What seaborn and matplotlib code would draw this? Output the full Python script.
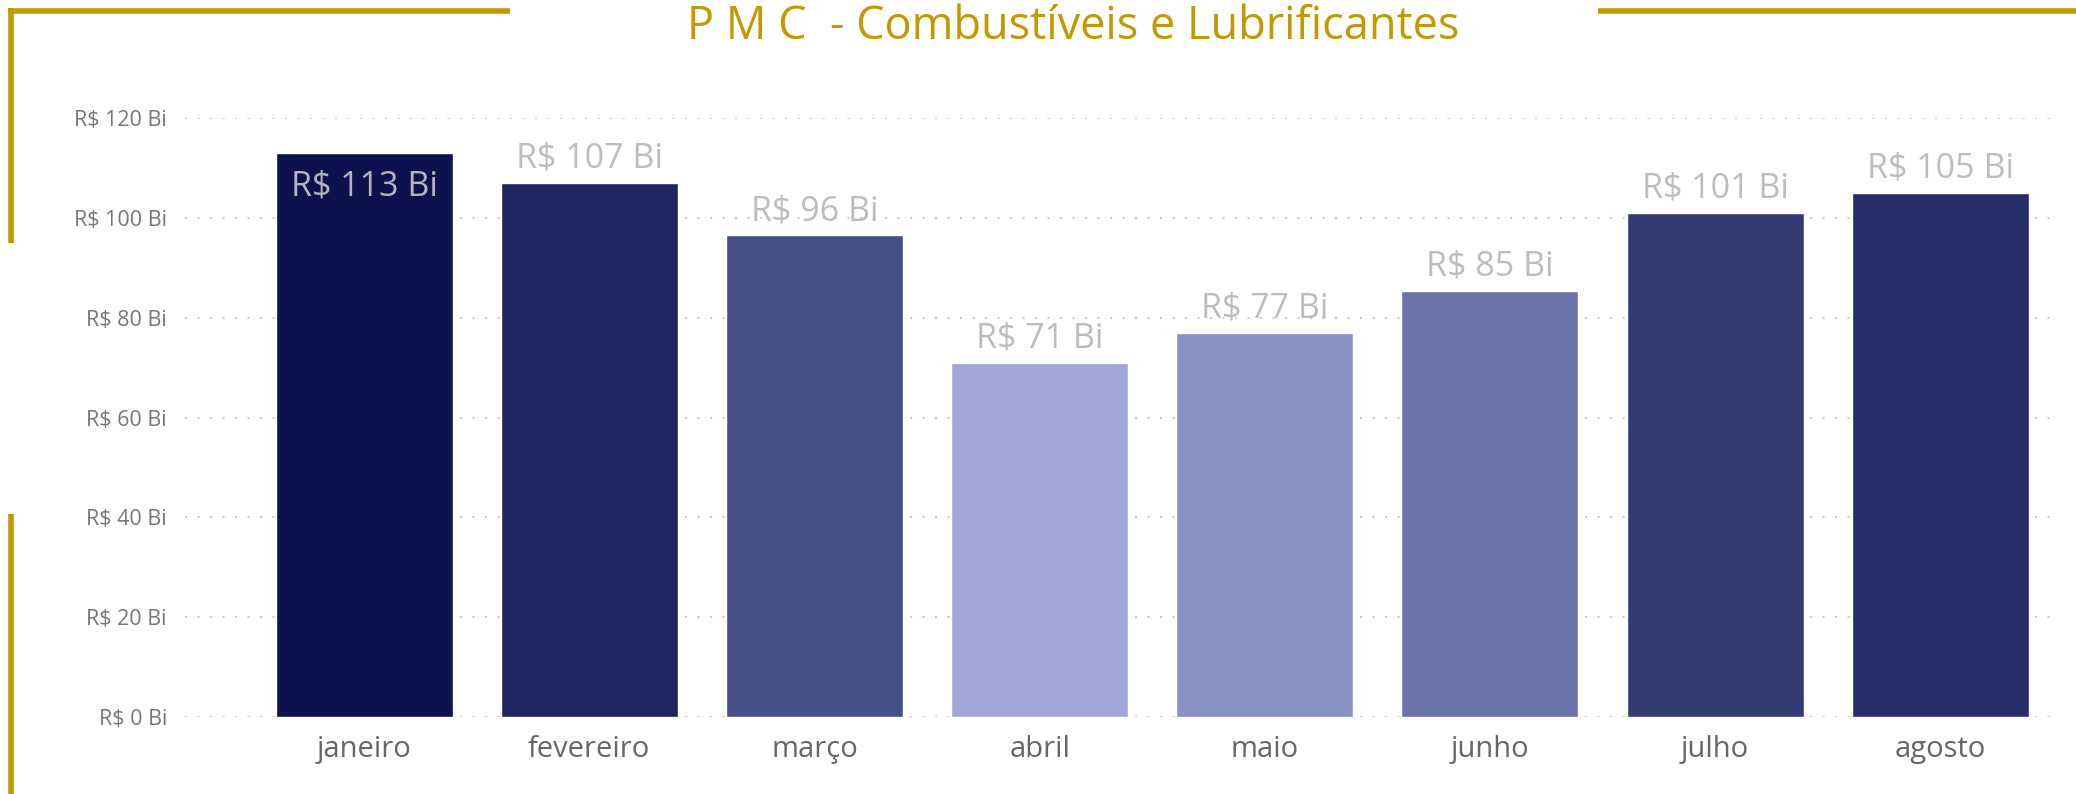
import pandas as pd
import matplotlib.pyplot as plt
import seaborn as sns
from matplotlib.lines import Line2D


# DATA
meses = ['janeiro', 'fevereiro', 'março', 'abril', 'maio', 'junho', 'julho', 'agosto']
valores = [113, 107, 96.5, 71, 77, 85.4, 101, 105]   # R$ bilhões
cores = ['#0b124d', '#1f2560', '#454f88', '#a0a7d8', '#8a92c4', '#6c73a8', '#333b72', '#262d69']
yticks = [0, 20, 40, 60, 80, 100, 120]
titulo = 'P M C  - Combustíveis e Lubrificantes'

df = pd.DataFrame({'mes': meses, 'valor': valores})

gold = '#c49800'

sns.set_theme(style='white')
plt.rcParams['font.family'] = ['Open Sans', 'DejaVu Sans']

fig = plt.figure(figsize=(20.76, 7.94), dpi=100)
fig.patch.set_facecolor('white')
W, H = 2076, 794
ax = fig.add_axes([185 / W, 1 - 717 / H, (2050 - 185) / W, (717 - 118) / H])

sns.barplot(data=df, x='mes', y='valor', hue='mes', palette=dict(zip(meses, cores)),
            width=0.786, legend=False, ax=ax, saturation=1)

ax.set_xlim(-0.795, 7.487)
ax.set_ylim(0, 120)
ax.set_yticks(yticks)
ax.set_yticklabels([f'R$ {v} Bi' for v in yticks])
ax.set_xlabel('')
ax.set_ylabel('')
ax.tick_params(axis='y', length=0, pad=13, labelsize=15.5, labelcolor='#777777')
ax.tick_params(axis='x', length=0, pad=13, labelsize=21, labelcolor='#666666')

# dotted gridlines
ax.set_axisbelow(True)
ax.yaxis.grid(True, color='#cccccc', linewidth=1.5, linestyle=(0, (1, 5)))
ax.xaxis.grid(False)
for s in ax.spines.values():
    s.set_visible(False)

# value labels
vmax = max(valores)
for bar, v in zip(ax.patches, valores):
    x = bar.get_x() + bar.get_width() / 2
    txt = f'R$ {round(v)} Bi'
    if v == vmax:
        ax.annotate(txt, (x, bar.get_height()), xytext=(0, -12), textcoords='offset points',
                    ha='center', va='top', fontsize=24.5, color='#b4b4bc')
    else:
        ax.annotate(txt, (x, bar.get_height()), xytext=(0, 11), textcoords='offset points',
                    ha='center', va='baseline', fontsize=24.5, color='#bdbdbd')

# title and gold frame
fig.text(1073 / W, 1 - 4 / H, titulo, ha='center', va='top', fontsize=32.5, color=gold)

lw = 4
fig.add_artist(Line2D([8 / W, 510 / W], [1 - 10.5 / H] * 2, color=gold, lw=lw, solid_capstyle='butt'))
fig.add_artist(Line2D([1598 / W, 1.0], [1 - 10.5 / H] * 2, color=gold, lw=lw, solid_capstyle='butt'))
fig.add_artist(Line2D([10.5 / W] * 2, [1 - 8 / H, 1 - 243 / H], color=gold, lw=lw, solid_capstyle='butt'))
fig.add_artist(Line2D([10.5 / W] * 2, [1 - 514 / H, 0], color=gold, lw=lw, solid_capstyle='butt'))

fig.savefig('out.png', dpi=100)
